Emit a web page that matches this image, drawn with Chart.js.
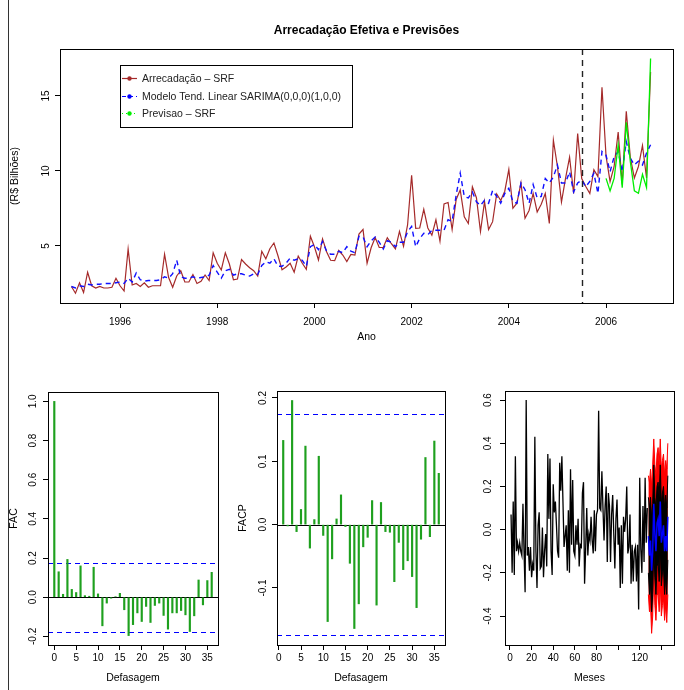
<!DOCTYPE html>
<html>
<head>
<meta charset="utf-8">
<script src="https://cdn.jsdelivr.net/npm/chart.js@4.4.0/dist/chart.umd.min.js"></script>
<style>
  body { margin: 0; background: #fff; width: 684px; height: 690px; position: relative; overflow: hidden; }
  canvas { position: absolute; }
  #moldura { position: absolute; left: 8px; top: 0; width: 0; height: 690px; border-left: 1px solid #333; }
</style>
</head>
<body>
<div id="moldura"></div>
<canvas id="principal" width="684" height="360" style="left:0;top:0"></canvas>
<canvas id="fac" width="228" height="320" style="left:0;top:370px"></canvas>
<canvas id="facp" width="228" height="320" style="left:228px;top:370px"></canvas>
<canvas id="residuos" width="228" height="320" style="left:456px;top:370px"></canvas>
<script>
// ---------- dados (R$ bilhões, mensal, jan/1995 a dez/2006) ----------
const anoInicio = 1995;
const arrecadacao = [
  2.3, 1.85, 2.55, 1.9, 3.25, 2.35, 2.2, 2.3, 2.2, 2.2, 2.25, 2.85,
  2.35, 2.0, 4.8, 2.4, 2.5, 2.3, 2.55, 2.25, 2.35, 2.35, 2.35, 4.45,
  2.9, 2.25, 3.0, 3.35, 2.6, 2.6, 3.1, 2.5, 2.65, 3.07, 2.7, 4.55,
  3.85, 3.4, 4.55, 3.8, 2.75, 2.8, 4.1, 3.8, 3.55, 3.35, 3.0, 4.65,
  4.15, 4.82, 5.2, 4.35, 3.42, 3.6, 3.85, 3.25, 4.33, 3.85, 3.45, 5.65,
  4.95, 4.07, 5.47, 4.62, 4.05, 4.02, 4.7, 4.4, 3.96, 4.44, 4.4, 5.8,
  6.1, 3.85, 4.88, 5.56, 4.9, 4.9, 5.55, 5.15, 4.8, 5.97, 4.98, 6.4,
  9.72, 6.18, 6.2, 7.44, 6.2, 5.72, 6.75, 5.32, 7.8, 7.9, 6.1, 8.1,
  8.73, 6.95, 6.5, 8.95, 8.22, 5.96, 7.96, 6.1, 6.62, 8.47, 8.03, 8.65,
  10.1, 7.51, 7.85, 9.21, 6.85, 7.37, 8.5, 7.27, 7.78, 8.5, 6.5, 12.05,
  10.3, 7.93, 9.5, 10.92, 8.5, 12.5, 9.5, 8.96, 8.5, 10.08, 9.62, 15.58,
  11.0, 9.29, 10.3, 12.6, 9.1, 13.98, 10.9, 9.53, 10.3, 11.7, 9.53, 16.6
];
const modeloSarima = [
  2.3, 2.2, 2.35, 2.3, 2.45, 2.4, 2.45, 2.45, 2.5, 2.5, 2.5, 2.55,
  2.6, 2.5, 2.85, 2.6, 3.2, 2.75, 2.65, 2.7, 2.7, 2.7, 2.75, 2.95,
  2.85, 3.15, 4.05, 2.95, 2.85, 2.85, 2.95, 2.85, 2.9, 2.95, 3.05, 3.7,
  3.25, 2.85, 3.35, 3.45, 3.05, 3.15, 3.15, 3.05, 3.0, 3.15, 3.1, 3.7,
  3.95, 3.85, 4.15, 3.65, 3.65, 3.85, 4.2, 4.05, 4.15, 4.05, 3.65, 4.95,
  5.1, 4.75, 5.3, 4.65, 4.45, 4.45, 4.65, 4.55, 4.95, 4.65, 4.55, 5.65,
  5.6, 4.95, 5.35, 5.6, 5.25, 4.8, 5.35, 5.25, 4.95, 5.25, 5.25, 5.95,
  6.3, 4.95, 5.5, 5.85, 5.75, 6.05, 6.05, 6.05, 6.05, 6.75, 6.65, 8.4,
  9.85, 8.3, 8.2, 8.6, 7.95, 7.7, 8.05, 7.85, 8.7, 8.3, 7.85, 8.5,
  8.85, 7.95, 7.85, 9.2, 8.75, 7.85, 9.1, 8.2, 8.3, 9.5, 9.2, 9.6,
  10.4, 9.2, 9.2, 9.95, 8.6, 9.2, 9.4, 8.95, 9.3, 9.85, 8.5, 11.3,
  11.05, 9.95, 10.95, 11.3, 9.95, 11.95, 10.85, 10.4, 10.65, 10.4, 11.2, 11.75
];
const anoPrevisao = 2006;
const previsaoSRF = [9.51, 8.67, 9.5, 11.73, 8.89, 13.24, 10.62, 8.67, 8.51, 9.78, 8.89, 17.5];
const anoCorte = 2005.5;
const anosTicks = [1996, 1998, 2000, 2002, 2004, 2006];
const bilhoesTicks = [5, 10, 15];

// FAC (defasagens 0..36) e FACP (defasagens 1..36)
const fac = [
  1.0, 0.13, 0.015, 0.193, 0.04, 0.024, 0.16, 0.008, 0.005, 0.153, 0.017, -0.146, -0.03,
  -0.005, 0.002, 0.02, -0.064, -0.196, -0.14, -0.08, -0.124, -0.047, -0.129, -0.042, -0.03,
  -0.093, -0.163, -0.08, -0.08, -0.068, -0.09, -0.175, -0.095, 0.088, -0.039, 0.085, 0.127
];
const facp = [
  0.133, -0.002, 0.196, -0.011, 0.024, 0.124, -0.037, 0.008, 0.108, -0.017, -0.153, -0.054,
  0.009, 0.047, -0.003, -0.061, -0.164, -0.125, -0.035, -0.02, 0.038, -0.127, 0.035, -0.011,
  -0.012, -0.09, -0.028, -0.071, -0.057, -0.082, -0.131, -0.023, 0.106, -0.019, 0.132, 0.081
];
const limiteFac = 0.176;
const limiteFacp = 0.175;
const defasagemTicks = [0, 5, 10, 15, 20, 25, 30, 35];
const facTicks = [-0.2, 0, 0.2, 0.4, 0.6, 0.8, 1.0];
const facpTicks = [-0.1, 0, 0.1, 0.2];

// residuos (meses 1..127) e previsao com faixas (meses 128..146)
const residuos = [
  0.07, -0.2, 0.13, -0.21, 0.34, -0.1, -0.06, -0.1, -0.06, -0.1, -0.12, 0.12, -0.1, -0.29, 0.6,
  -0.12, -0.08, -0.19, -0.08, -0.22, -0.16, -0.19, 0.43, -0.1, -0.27, 0.02, 0.08, -0.18, -0.17,
  0.01, -0.22, -0.1, -0.02, -0.17, 0.35, 0.05, 0.33, -0.1, -0.21, 0.21, 0.08, 0.13, 0.02, -0.1,
  -0.13, 0.31, 0.18, 0.34, 0.13, -0.08, -0.03, 0.02, -0.19, 0.09, -0.2, 0.28, -0.07, 0.23, -0.1,
  -0.12, 0.02, -0.07, 0.05, -0.17, -0.07, -0.08, 0.17, 0.22, -0.25, -0.09, 0.1, -0.12, -0.02,
  -0.05, 0.06, -0.05, -0.11, 0.09, -0.1, 0.07, 0.09, 0.55, 0.1, 0.09, 0.27, 0.1, -0.05, 0.11,
  0.2, -0.15, 0.17, 0.11, -0.15, 0.07, 0.16, -0.02, -0.18, 0.05, 0.14, -0.07, 0.01, -0.27, 0.02,
  -0.25, 0.06, -0.01, 0.05, 0.2, -0.11, -0.08, 0.07, -0.25, -0.07, -0.24, -0.1, -0.08, -0.24,
  -0.07, -0.37, 0.24, -0.09, -0.2, 0.11, -0.15, 0.24, -0.06, 0.1
];
const mesInicioPrev = 128;
const prevMedia = [-0.03, -0.12, -0.05, -0.19, -0.1, 0.12, -0.02, -0.1, 0.03, 0.05, -0.03, 0.13, -0.06, -0.02, 0.02, -0.1, -0.03, -0.1, 0.06];
const prevSup80 = [0.15, 0.1, 0.15, 0.05, 0.12, 0.3, 0.15, 0.1, 0.2, 0.22, 0.15, 0.3, 0.12, 0.17, 0.2, 0.1, 0.16, 0.1, 0.25];
const prevInf80 = [-0.2, -0.3, -0.25, -0.38, -0.3, -0.08, -0.22, -0.3, -0.17, -0.15, -0.24, -0.08, -0.26, -0.2, -0.18, -0.3, -0.22, -0.3, -0.14];
const prevSup95 = [0.25, 0.22, 0.28, 0.2, 0.3, 0.42, 0.3, 0.25, 0.35, 0.38, 0.3, 0.42, 0.28, 0.32, 0.35, 0.25, 0.32, 0.28, 0.4];
const prevInf95 = [-0.3, -0.38, -0.35, -0.48, -0.4, -0.2, -0.35, -0.42, -0.3, -0.3, -0.38, -0.25, -0.4, -0.35, -0.32, -0.42, -0.35, -0.43, -0.3];
const mesesTicks = [0, 20, 40, 60, 80, 100, 120, 140];
const mesesSemRotulo = [100, 140];
const residuosTicks = [-0.4, -0.2, 0, 0.2, 0.4, 0.6];

// ---------- configuracao comum ----------
const FONTE = '"Liberation Sans", Arial, Helvetica, sans-serif';
Chart.defaults.font.family = FONTE;
Chart.defaults.color = '#000';
Chart.defaults.animation = false;
Chart.defaults.plugins.legend.display = false;
Chart.defaults.plugins.tooltip.enabled = false;

function eixoX(min, max, ticks, altura, o) {
  return {
    type: 'linear', min: min, max: max, offset: false,
    afterFit: s => { s.height = altura; },
    afterBuildTicks: s => { s.ticks = ticks.map(v => ({ value: v })); },
    grid: { drawOnChartArea: false, drawTicks: true, tickLength: 5, color: '#000', tickColor: '#000', offset: false },
    border: { display: true, color: '#000' },
    ticks: { autoSkip: false, maxRotation: 0, minRotation: 0, padding: o.pad, font: { size: 10 }, color: '#000',
             callback: o.fmt || (v => String(v)) },
    title: o.titulo ? { display: true, text: o.titulo, color: '#000', font: { size: o.tamTitulo || 10.5 },
                        padding: { top: 0, bottom: o.padTitulo } } : { display: false }
  };
}

function eixoY(min, max, ticks, largura, o) {
  return {
    type: 'linear', min: min, max: max,
    afterFit: s => { s.width = largura; },
    afterBuildTicks: s => { s.ticks = ticks.map(v => ({ value: v })); },
    grid: { drawOnChartArea: false, drawTicks: true, tickLength: 5, color: '#000', tickColor: '#000' },
    border: { display: true, color: '#000' },
    ticks: { display: false },
    title: o.titulo ? { display: true, text: o.titulo, color: '#000', font: { size: o.tamTitulo || 10.5 },
                        padding: { top: o.padTitulo, bottom: 0 } } : { display: false }
  };
}

// caixa estilo R, rotulos do eixo y girados e linhas de referencia
const estiloR = {
  id: 'estiloR',
  beforeDatasetsDraw(chart, args, o) {
    const { ctx, chartArea: a, scales } = chart;
    ctx.save();
    (o.linhas || []).forEach(l => {
      const y = Math.round(scales.y.getPixelForValue(l.valor)) + 0.5;
      ctx.strokeStyle = l.cor; ctx.lineWidth = l.largura || 1;
      ctx.setLineDash(l.traco || []);
      ctx.beginPath(); ctx.moveTo(a.left, y); ctx.lineTo(a.right, y); ctx.stroke();
    });
    ctx.restore();
  },
  afterDraw(chart, args, o) {
    const { ctx, chartArea: a, scales } = chart;
    ctx.save();
    ctx.strokeStyle = '#000'; ctx.lineWidth = 1; ctx.setLineDash([]);
    ctx.strokeRect(Math.round(a.left) + 0.5, Math.round(a.top) + 0.5, Math.round(a.right - a.left), Math.round(a.bottom - a.top));
    ctx.fillStyle = '#000';
    ctx.font = '10px ' + FONTE;
    ctx.textAlign = 'center'; ctx.textBaseline = 'middle';
    o.yTicks.forEach(v => {
      const y = scales.y.getPixelForValue(v);
      ctx.save();
      ctx.translate(o.yRotuloX, y);
      ctx.rotate(-Math.PI / 2);
      ctx.fillText(o.formato ? o.formato(v) : String(v), 0, 0);
      ctx.restore();
    });
    ctx.restore();
  }
};

// titulo, linha de corte e legenda do grafico principal
const extrasPrincipal = {
  id: 'extrasPrincipal',
  afterDatasetsDraw(chart) {
    const { ctx, chartArea: a, scales } = chart;
    ctx.save();
    const xc = Math.round(scales.x.getPixelForValue(anoCorte)) + 0.5;
    ctx.strokeStyle = '#222'; ctx.lineWidth = 1.4; ctx.setLineDash([6, 5]);
    ctx.beginPath(); ctx.moveTo(xc, a.top); ctx.lineTo(xc, a.bottom); ctx.stroke();
    ctx.setLineDash([]);

    ctx.fillStyle = '#000';
    ctx.font = 'bold 12px ' + FONTE;
    ctx.textAlign = 'center'; ctx.textBaseline = 'middle';
    ctx.fillText('Arrecadação Efetiva e Previsões', (a.left + a.right) / 2, 31);

    // legenda
    ctx.fillStyle = '#fff';
    ctx.fillRect(120, 65, 232, 62);
    ctx.strokeStyle = '#000'; ctx.lineWidth = 1;
    ctx.strokeRect(120.5, 65.5, 232, 62);
    const itens = [
      { txt: 'Arrecadação – SRF', cor: '#a52a2a', traco: [], y: 78 },
      { txt: 'Modelo Tend. Linear SARIMA(0,0,0)(1,0,0)', cor: '#0000ff', traco: [4, 3], y: 96 },
      { txt: 'Previsao – SRF', cor: '#00ee00', traco: [1, 3], y: 113 }
    ];
    ctx.font = '10.5px ' + FONTE;
    ctx.textAlign = 'left';
    itens.forEach(it => {
      ctx.strokeStyle = it.cor; ctx.lineWidth = 1.2; ctx.setLineDash(it.traco);
      ctx.beginPath(); ctx.moveTo(122, it.y + 0.5); ctx.lineTo(137, it.y + 0.5); ctx.stroke();
      ctx.setLineDash([]);
      ctx.fillStyle = it.cor;
      ctx.beginPath(); ctx.arc(129.5, it.y + 0.5, 2.2, 0, Math.PI * 2); ctx.fill();
      ctx.fillStyle = '#222';
      ctx.fillText(it.txt, 142, it.y + 1);
    });
    ctx.restore();
  }
};

// ---------- grafico principal ----------
const pontos = (valores, inicio) => valores.map((v, i) => ({ x: inicio + i / 12, y: v }));

new Chart(document.getElementById('principal'), {
  type: 'line',
  data: {
    datasets: [
      { label: 'Previsao – SRF', data: pontos(previsaoSRF, anoPrevisao), borderColor: '#00ee00',
        borderWidth: 1.3, pointRadius: 0, order: 1 },
      { label: 'Modelo Tend. Linear SARIMA(0,0,0)(1,0,0)', data: pontos(modeloSarima, anoInicio), borderColor: '#1010ff',
        borderWidth: 1.4, borderDash: [5, 4], pointRadius: 0, order: 2 },
      { label: 'Arrecadação – SRF', data: pontos(arrecadacao, anoInicio), borderColor: '#a52a2a',
        borderWidth: 1.2, pointRadius: 0, order: 3 }
    ]
  },
  options: {
    responsive: false,
    layout: { padding: { top: 49, right: 11, left: 0, bottom: 0 } },
    scales: {
      x: eixoX(1994.765, 2007.378, anosTicks, 57, { pad: 8, titulo: 'Ano', padTitulo: 16.4, tamTitulo: 10.5 }),
      y: eixoY(1.2, 18.13, bilhoesTicks, 60, { titulo: '(R$ Bilhões)', padTitulo: 8.4, tamTitulo: 10.5 })
    },
    plugins: { estiloR: { yTicks: bilhoesTicks, yRotuloX: 46 } }
  },
  plugins: [estiloR, extrasPrincipal]
});

// ---------- FAC ----------
const um = v => v.toFixed(1);
const verde = 'rgb(30,160,30)';

new Chart(document.getElementById('fac'), {
  type: 'bar',
  data: { datasets: [{ data: fac.map((v, i) => ({ x: i, y: v })), backgroundColor: verde, barThickness: 1.5 }] },
  options: {
    responsive: false,
    layout: { padding: { top: 22, right: 10, left: 0, bottom: 0 } },
    scales: {
      x: eixoX(-1.44, 37.44, defasagemTicks, 45, { pad: 2, titulo: 'Defasagem', padTitulo: 5.7 }),
      y: eixoY(-0.244, 1.048, facTicks, 48, { titulo: 'FAC', padTitulo: 7.7 })
    },
    plugins: { estiloR: { yTicks: facTicks, yRotuloX: 33, formato: um,
      linhas: [
        { valor: 0, cor: '#000', largura: 1 },
        { valor: limiteFac, cor: '#0000ff', traco: [5, 4], largura: 1.2 },
        { valor: -limiteFac, cor: '#0000ff', traco: [5, 4], largura: 1.2 }
      ] } }
  },
  plugins: [estiloR]
});

// ---------- FACP ----------
new Chart(document.getElementById('facp'), {
  type: 'bar',
  data: { datasets: [{ data: facp.map((v, i) => ({ x: i + 1, y: v })), backgroundColor: verde, barThickness: 1.5 }] },
  options: {
    responsive: false,
    layout: { padding: { top: 21, right: 11, left: 0, bottom: 0 } },
    scales: {
      x: eixoX(-0.4, 37.4, defasagemTicks, 45, { pad: 2, titulo: 'Defasagem', padTitulo: 5.7 }),
      y: eixoY(-0.19, 0.211, facpTicks, 49, { titulo: 'FACP', padTitulo: 8.7 })
    },
    plugins: { estiloR: { yTicks: facpTicks, yRotuloX: 35, formato: um,
      linhas: [
        { valor: 0, cor: '#000', largura: 1 },
        { valor: limiteFacp, cor: '#0000ff', traco: [5, 4], largura: 1.2 },
        { valor: -limiteFacp, cor: '#0000ff', traco: [5, 4], largura: 1.2 }
      ] } }
  },
  plugins: [estiloR]
});

// ---------- residuos e previsao ----------
const serieMes = (valores, inicio) => valores.map((v, i) => ({ x: inicio + i, y: v }));

new Chart(document.getElementById('residuos'), {
  type: 'line',
  data: {
    datasets: [
      { data: serieMes(prevMedia, mesInicioPrev), borderColor: '#0000ff', borderWidth: 1.5, pointRadius: 0, order: 1 },
      { data: serieMes(prevSup80, mesInicioPrev), borderColor: '#000', backgroundColor: '#000', borderWidth: 1,
        pointRadius: 0, fill: '+1', order: 2 },
      { data: serieMes(prevInf80, mesInicioPrev), borderColor: '#000', borderWidth: 1, pointRadius: 0, order: 2 },
      { data: serieMes(prevSup95, mesInicioPrev), borderColor: '#ff0000', backgroundColor: '#ff0000', borderWidth: 1,
        pointRadius: 0, fill: '+1', order: 3 },
      { data: serieMes(prevInf95, mesInicioPrev), borderColor: '#ff0000', borderWidth: 1, pointRadius: 0, order: 3 },
      { data: serieMes(residuos, 1), borderColor: '#000', borderWidth: 1.3, pointRadius: 0, order: 4 }
    ]
  },
  options: {
    responsive: false,
    layout: { padding: { top: 21, right: 10, left: 0, bottom: 0 } },
    scales: {
      x: eixoX(-4.6, 151.7, mesesTicks, 45, { pad: 2, titulo: 'Meses', padTitulo: 5.7,
            fmt: v => (mesesSemRotulo.includes(v) ? '' : String(v)) }),
      y: eixoY(-0.534, 0.642, residuosTicks, 49, {})
    },
    plugins: { estiloR: { yTicks: residuosTicks, yRotuloX: 32, formato: um } }
  },
  plugins: [estiloR]
});
</script>
</body>
</html>
